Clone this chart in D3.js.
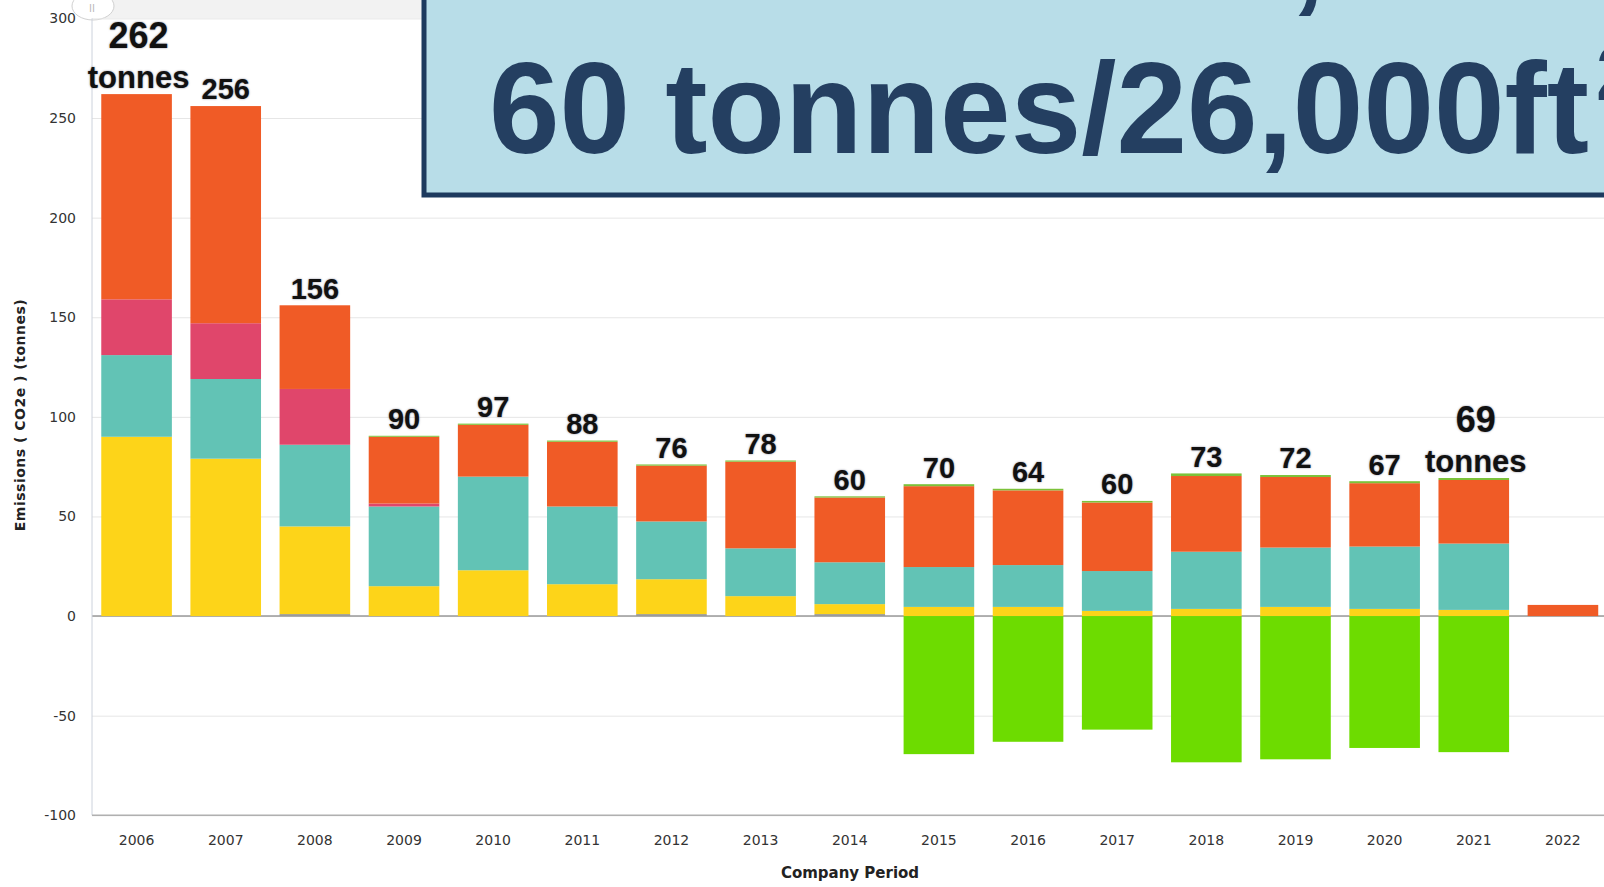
<!DOCTYPE html>
<meta charset="utf-8">
<script src="https://cdn.jsdelivr.net/npm/d3@7"></script>
<style>
  body { margin: 0; overflow: hidden; background: #fff; }
  .lbl { font-family: "Liberation Sans", Arial, sans-serif; font-weight: bold; fill: #111;
         text-shadow: 0 0 2px rgba(40,40,70,0.6); }
</style>
<div id="chart"></div>

<script>
// ---- data ----
var years  = [2006,2007,2008,2009,2010,2011,2012,2013,2014,2015,2016,2017,2018,2019,2020,2021,2022];
var grey   = [0, 0, 1, 0, 0, 0, 1, 0, 1, 0, 0, 0, 0, 0, 0, 0, 0];
var yellow = [90, 79, 44, 15, 23, 16, 17.5, 10, 5, 4.6, 4.6, 2.6, 3.6, 4.6, 3.6, 3.1, 0];
var teal   = [41, 40, 41, 40, 47, 39, 29, 24, 21, 20, 21, 20, 28.7, 29.8, 31.3, 33.3, 0];
var pink   = [28, 28, 28, 1.5, 0, 0, 0, 0, 0, 0, 0, 0, 0, 0, 0, 0, 0];
var orange = [103, 109, 42, 33.5, 26, 32.5, 28, 43.5, 32.5, 40.6, 37.5, 34.4, 38, 35.4, 31.8, 31.9, 5.6];
var lime   = [0, 0, 0, 0.5, 0.6, 0.6, 0.6, 0.6, 0.6, 1, 0.8, 0.8, 1.3, 1, 1, 1, 0];
var green  = [0, 0, 0, 0, 0, 0, 0, 0, 0, -69.3, -63.1, -57, -73.4, -71.9, -66.2, -68.3, 0];

var labels      = ["262","256","156","90","97","88","76","78","60","70","64","60","73","72","67","69",""];
var tonnesYears = [2006, 2021];
var yTicks      = [-100, -50, 0, 50, 100, 150, 200, 250, 300];

var keys = ["grey","yellow","teal","pink","orange","lime","green"];
var color = d3.scaleOrdinal()
  .domain(keys)
  .range(["#9a9a9a","#fdd419","#62c3b5","#e0466b","#f05b26","#7cc23a","#6ddc00"]);

var series = {grey: grey, yellow: yellow, teal: teal, pink: pink, orange: orange, lime: lime, green: green};
var data = years.map(function(yr, i) {
  var row = {year: yr, label: labels[i]};
  keys.forEach(function(k) { row[k] = series[k][i]; });
  return row;
});

// ---- dimensions ----
var W = 1604, H = 887;
var margin = {top: 18.4, left: 92},
    width = 1515.5,
    height = 796.9;

var svg = d3.select("#chart")
  .append("svg")
    .attr("width", W)
    .attr("height", H)
    .style("font-family", "'DejaVu Sans', Verdana, sans-serif");

// scrollbar strip at the very top
svg.append("rect")
  .attr("x", margin.left).attr("y", 0)
  .attr("width", W - margin.left).attr("height", margin.top)
  .attr("fill", "#f2f2f2");
svg.append("ellipse")
  .attr("cx", 93).attr("cy", 6).attr("rx", 21).attr("ry", 14)
  .attr("fill", "#fff").attr("stroke", "#d0d0d0");
svg.append("text")
  .attr("x", 92).attr("y", 12).attr("text-anchor", "middle")
  .attr("font-size", 10).attr("fill", "#bbb").text("II");

var g = svg.append("g")
  .attr("transform", "translate(" + margin.left + "," + margin.top + ")");

var x = d3.scaleBand()
  .domain(years)
  .range([0, width])
  .paddingInner(0.208)
  .paddingOuter(0.104);

var y = d3.scaleLinear()
  .domain([-100, 300])
  .range([height, 0]);

// grid lines
g.append("g")
  .call(d3.axisLeft(y).tickValues(yTicks).tickSize(-width).tickFormat(""))
  .call(function(s) {
    s.select(".domain").remove();
    s.selectAll("line").attr("stroke", "#e6e6e6");
  });

// y tick labels (plain hyphen for negatives, like the original)
g.append("g")
  .call(d3.axisLeft(y).tickValues(yTicks).tickSize(0).tickPadding(16)
          .tickFormat(function(d) { return String(d); }))
  .call(function(s) {
    s.select(".domain").remove();
    s.selectAll("text").attr("font-size", 14).attr("fill", "#333").attr("font-family", "'DejaVu Sans', sans-serif");
  });

// zero line
g.append("line")
  .attr("x1", 0).attr("x2", width)
  .attr("y1", y(0)).attr("y2", y(0))
  .attr("stroke", "#9a9a9a").attr("stroke-width", 1.5);

// stacked bars
var stacked = d3.stack().keys(keys).offset(d3.stackOffsetDiverging)(data);

g.selectAll("g.layer")
  .data(stacked)
  .enter()
  .append("g")
    .attr("class", "layer")
    .attr("fill", function(d) { return color(d.key); })
  .selectAll("rect")
  .data(function(d) { return d; })
  .enter()
  .append("rect")
    .attr("x", function(d) { return x(d.data.year); })
    .attr("width", x.bandwidth())
    .attr("y", function(d) { return y(Math.max(d[0], d[1])); })
    .attr("height", function(d) { return Math.abs(y(d[0]) - y(d[1])); });

// axis lines
g.append("line")
  .attr("x1", 0).attr("x2", 0).attr("y1", 0).attr("y2", height)
  .attr("stroke", "#ccd2dc");
g.append("line")
  .attr("x1", 0).attr("x2", width).attr("y1", height).attr("y2", height)
  .attr("stroke", "#b0b0b0").attr("stroke-width", 1.5);

// x tick labels
g.append("g")
  .attr("transform", "translate(0," + height + ")")
  .call(d3.axisBottom(x).tickSize(0).tickPadding(20))
  .call(function(s) {
    s.select(".domain").remove();
    s.selectAll("text").attr("font-size", 14).attr("fill", "#333").attr("font-family", "'DejaVu Sans', sans-serif");
  });

// axis titles
svg.append("text")
  .attr("x", margin.left + 758).attr("y", 878)
  .attr("text-anchor", "middle")
  .attr("font-size", 15).attr("font-weight", "bold").attr("fill", "#222")
  .text("Company Period");

svg.append("text")
  .attr("transform", "translate(25,415) rotate(-90)")
  .attr("text-anchor", "middle")
  .attr("font-size", 14).attr("font-weight", "bold").attr("fill", "#222")
  .attr("letter-spacing", 0.5)
  .text("Emissions ( CO2e ) (tonnes)");

// value annotations above bars
function topOf(d) {
  return d3.sum(keys, function(k) { return d[k] > 0 ? d[k] : 0; });
}
data.forEach(function(d) {
  if (!d.label) return;
  var cx = x(d.year) + x.bandwidth() / 2;
  var cy = y(topOf(d)) - 17;            // centre of the first line above the bar
  var withUnit = tonnesYears.indexOf(d.year) >= 0;
  if (withUnit) {
    g.append("text").attr("class", "lbl")
      .attr("x", cx + 2).attr("y", cy + 0.36 * 31)
      .attr("text-anchor", "middle").attr("font-size", 31)
      .text("tonnes");
    g.append("text").attr("class", "lbl")
      .attr("x", cx + 2).attr("y", cy - 42 + 0.36 * 36)
      .attr("text-anchor", "middle").attr("font-size", 36)
      .text(d.label);
  } else {
    g.append("text").attr("class", "lbl")
      .attr("x", cx).attr("y", cy + 0.36 * 29)
      .attr("text-anchor", "middle").attr("font-size", 29)
      .text(d.label);
  }
});

// headline box over the top right
var box = svg.append("g");
box.append("rect")
  .attr("x", 424).attr("y", -20)
  .attr("width", 1300).attr("height", 215)
  .attr("fill", "#b8dde8")
  .attr("stroke", "#1d3a5e").attr("stroke-width", 5);
box.append("text")
  .attr("x", 1290).attr("y", -4)
  .attr("font-family", "'Liberation Sans', Arial, sans-serif")
  .attr("font-weight", "bold").attr("font-size", 128).attr("fill", "#243f61")
  .text(",");
box.append("text")
  .attr("x", 489).attr("y", 153)
  .attr("font-family", "'Liberation Sans', Arial, sans-serif")
  .attr("font-weight", "bold").attr("font-size", 130).attr("fill", "#243f61")
  .attr("textLength", 1100).attr("lengthAdjust", "spacingAndGlyphs")
  .text("60 tonnes/26,000ft");
box.append("text")
  .attr("x", 1596).attr("y", 100)
  .attr("font-family", "'Liberation Sans', Arial, sans-serif")
  .attr("font-weight", "bold").attr("font-size", 78).attr("fill", "#243f61")
  .text("2");
</script>
